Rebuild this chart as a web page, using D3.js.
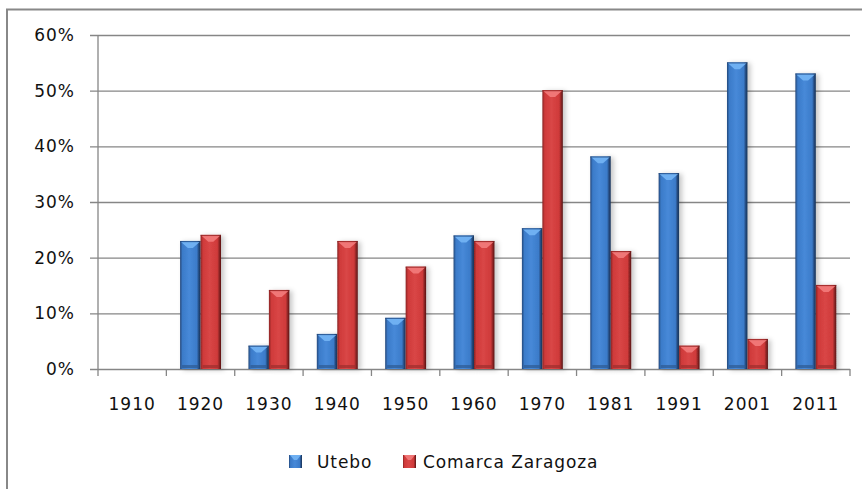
<!DOCTYPE html>
<html>
<head>
<meta charset="utf-8">
<script src="https://cdn.jsdelivr.net/npm/d3@7"></script>
<style>
  body { margin: 0; background: #fff; }
  text { font-family: "DejaVu Sans", sans-serif; fill: #111; }
</style>
</head>
<body>
<svg id="chart"></svg>
<script>
// data
const years = ["1910", "1920", "1930", "1940", "1950", "1960", "1970", "1981", "1991", "2001", "2011"];
const seriesNames = ["Utebo", "Comarca Zaragoza"];
const utebo = [0, 23, 4.2, 6.3, 9.2, 24, 25.3, 38.2, 35.2, 55.1, 53.1];
const comarca = [0, 24.1, 14.2, 23, 18.4, 23, 50.1, 21.2, 4.2, 5.4, 15.1];
const yTicks = [0, 10, 20, 30, 40, 50, 60];

const W = 862, H = 489;
const margin = {top: 35, right: 12, bottom: 120, left: 98};
const width = W - margin.left - margin.right;
const height = H - margin.top - margin.bottom;

const svg = d3.select("#chart").attr("width", W).attr("height", H);

// gradients / shadow
const defs = svg.append("defs");
const cols = {
    Utebo: {edge: "#23477a", mid: "#3b7bc9", light: "#4789d8", right: "#1a3559", cap: "#6fb0f2", bottom: "#2d5a92"},
    "Comarca Zaragoza": {edge: "#8a2424", mid: "#cf3a3a", light: "#d94646", right: "#581313", cap: "#f07676", bottom: "#9c2e2e"}
};
seriesNames.forEach((s, i) => {
    const c = cols[s];
    const g = defs.append("linearGradient").attr("id", "grad" + i).attr("x1", 0).attr("x2", 1).attr("y1", 0).attr("y2", 0);
    g.append("stop").attr("offset", "0%").attr("stop-color", c.edge);
    g.append("stop").attr("offset", "12%").attr("stop-color", c.mid);
    g.append("stop").attr("offset", "45%").attr("stop-color", c.light);
    g.append("stop").attr("offset", "82%").attr("stop-color", c.mid);
    g.append("stop").attr("offset", "92%").attr("stop-color", c.edge);
    g.append("stop").attr("offset", "100%").attr("stop-color", c.right);
});
const shadow = defs.append("filter").attr("id", "shadow").attr("x", "-30%").attr("y", "-10%").attr("width", "170%").attr("height", "130%");
shadow.append("feDropShadow").attr("dx", 3).attr("dy", 1).attr("stdDeviation", 2.5)
    .attr("flood-color", "#000").attr("flood-opacity", 0.22);

// frame (only top and left visible)
svg.append("path")
    .attr("d", `M7,${H} V9.5 H${W}`)
    .attr("fill", "none").attr("stroke", "#888").attr("stroke-width", 2);

const chart = svg.append("g").attr("transform", `translate(${margin.left},${margin.top})`);

// scales
const xScale = d3.scaleBand().domain(years).range([0, width]).padding(0);
const xSub = d3.scaleBand().domain(seriesNames).range([0, xScale.bandwidth()])
    .paddingInner(0).paddingOuter(0.67);
const yScale = d3.scaleLinear().domain([0, 60]).range([height, 0]);

// gridlines + y labels
const yAxis = d3.axisLeft(yScale).tickValues(yTicks).tickFormat(d => d + "%")
    .tickSize(-width - 8).tickPadding(14);
chart.append("g").attr("transform", "translate(-8,0)").call(yAxis)
    .call(g => g.select(".domain").remove())
    .call(g => g.selectAll(".tick line").attr("stroke", "#868686").attr("stroke-width", 1.3)
        .attr("x1", 0).attr("x2", width + 8))
    .call(g => g.selectAll(".tick text").attr("x", -15).style("font-size", "17px")
        .style("letter-spacing", "1px").attr("fill", "#111"));

// y axis line
chart.append("line").attr("x1", 0).attr("x2", 0).attr("y1", 0).attr("y2", height)
    .attr("stroke", "#868686").attr("stroke-width", 1.3);

// x axis
const xAxisScale = d3.scaleLinear().domain([0, years.length]).range([0, width]);
const xTickG = chart.append("g").attr("transform", `translate(0,${height})`);
xTickG.selectAll("line").data(d3.range(years.length + 1)).join("line")
    .attr("x1", d => xAxisScale(d)).attr("x2", d => xAxisScale(d))
    .attr("y1", 0).attr("y2", 7)
    .attr("stroke", "#868686").attr("stroke-width", 1.3);
xTickG.selectAll("text").data(years).join("text")
    .attr("x", d => xScale(d) + xScale.bandwidth() / 2)
    .attr("y", 41)
    .attr("text-anchor", "middle")
    .style("font-size", "17px").style("letter-spacing", "1px")
    .text(d => d);

// bars
const rows = years.map((y, i) => ({year: y, values: [utebo[i], comarca[i]]}));
const groups = chart.selectAll(".grp").data(rows).join("g").attr("class", "grp")
    .attr("transform", d => `translate(${xScale(d.year)},0)`);

groups.each(function(d) {
    const g = d3.select(this);
    d.values.forEach((v, i) => {
        if (v <= 0) return;
        const s = seriesNames[i];
        const c = cols[s];
        const x = xSub(s), bw = xSub.bandwidth();
        const yTop = yScale(v), h = height - yTop;
        const bar = g.append("g").attr("class", "bar");
        bar.append("rect").attr("x", x).attr("y", yTop).attr("width", bw).attr("height", h)
            .attr("fill", `url(#grad${i})`).attr("filter", "url(#shadow)");
        // top bevel
        const cap = Math.min(7, h / 2);
        bar.append("path")
            .attr("d", `M${x + 1},${yTop + 1} H${x + bw - 1} L${x + bw / 2 + 2.5},${yTop + cap} H${x + bw / 2 - 2.5} Z`)
            .attr("fill", c.cap);
        bar.append("rect").attr("x", x).attr("y", yTop).attr("width", bw).attr("height", 1.2)
            .attr("fill", c.edge).attr("opacity", 0.6);
        // bottom band
        bar.append("rect").attr("x", x + 2).attr("y", height - 4).attr("width", bw - 4).attr("height", 3)
            .attr("fill", c.bottom).attr("opacity", 0.7);
    });
});

// legend
const legend = svg.append("g").attr("transform", "translate(0,462)");
const legendItems = [
    {name: seriesNames[0], x: 289, idx: 0},
    {name: seriesNames[1], x: 403, idx: 1}
];
legendItems.forEach(it => {
    legend.append("rect").attr("x", it.x).attr("y", -7).attr("width", 13).attr("height", 13)
        .attr("fill", `url(#grad${it.idx})`);
    legend.append("path")
        .attr("d", `M${it.x + 1},-7 H${it.x + 12} L${it.x + 8},-2 H${it.x + 5} Z`)
        .attr("fill", cols[it.name].cap);
    legend.append("text").attr("x", it.x + (it.idx === 0 ? 28 : 20)).attr("y", 6)
        .style("font-size", "17px").style("letter-spacing", "0.9px")
        .text(it.name);
});
</script>
</body>
</html>
